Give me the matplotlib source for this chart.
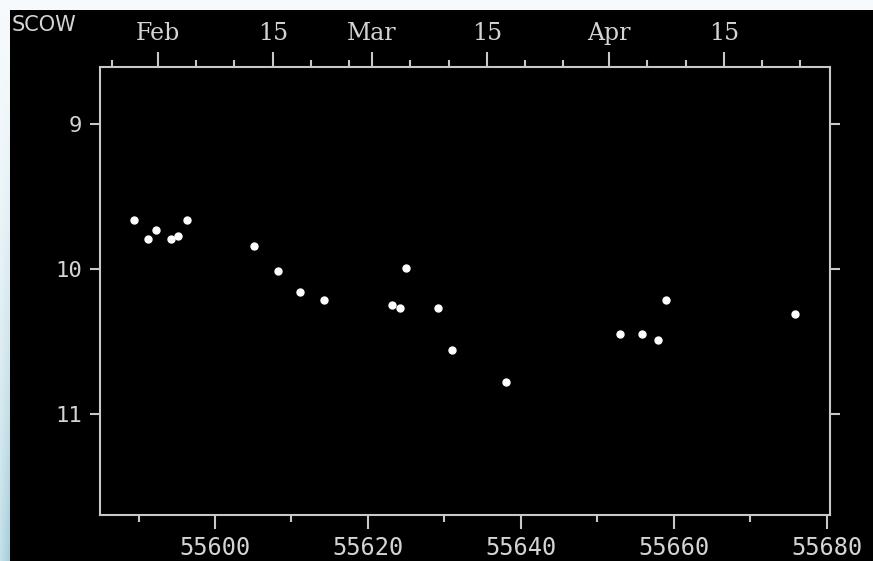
import numpy as np
from matplotlib import pyplot as plt
from matplotlib.colors import LinearSegmentedColormap

# 观测数据 (MJD, 星等)
mjd = [55589.4, 55591.3, 55592.3, 55594.3, 55595.2, 55596.3, 55605.1, 55608.3,
       55611.1, 55614.3, 55623.2, 55624.2, 55625.0, 55629.2, 55631.0, 55638.1,
       55653.0, 55655.9, 55658.0, 55659.0, 55675.8]
mag = [9.66, 9.79, 9.73, 9.79, 9.77, 9.66, 9.84, 10.01,
       10.16, 10.21, 10.25, 10.27, 9.99, 10.27, 10.56, 10.78,
       10.45, 10.45, 10.49, 10.21, 10.31]

# 上方日期刻度 (每月1, 6, 11, 16, 21, 26日的MJD)
top_major = [55593, 55608, 55621, 55636, 55652, 55667]
top_labels = ['Feb', '15', 'Mar', '15', 'Apr', '15']
top_minor = [55587, 55598, 55603, 55613, 55618, 55626, 55631, 55641, 55646,
             55657, 55662, 55672, 55677]
bottom_major = [55600, 55620, 55640, 55660, 55680]
bottom_minor = [55590, 55610, 55630, 55650, 55670]
y_ticks = [9, 10, 11]

fg = '#c8c8c8'
txt = '#d4d4d4'

fig = plt.figure(figsize=(8.73, 5.61), dpi=100, facecolor='#f6fafc')

# 黑色背景 (放在最底层的axes)
bg = fig.add_axes([10 / 873, 0, 1 - 10 / 873, 1 - 10 / 561], zorder=-5)
bg.set_facecolor('black')
bg.set_xticks([])
bg.set_yticks([])
for s in bg.spines.values():
    s.set_visible(False)

# 左边浅蓝色渐变条
strip = fig.add_axes([0, 0, 10 / 873, 1], zorder=-5)
gy = np.linspace(0, 1, 100)[:, None]
gx = np.linspace(0, 1, 10)[None, :]
grad = gy ** 1.5 * (0.6 + 0.4 * gx)
strip.imshow(grad, aspect='auto', cmap=LinearSegmentedColormap.from_list('b', ['#f6fafc', '#a4cedb']),
             origin='upper', extent=[0, 1, 0, 1])
strip.axis('off')

ax = fig.add_axes([100 / 873, 1 - 515 / 561, 730 / 873, 448 / 561])
ax.set_facecolor('black')
ax.plot(mjd, mag, 'o', color='white', ms=5, mec='white')

ax.set_xlim(55584.96, 55680.44)
ax.set_ylim(11.695, 8.605)

for s in ax.spines.values():
    s.set_color(fg)
    s.set_linewidth(1.5)

ax.set_xticks(bottom_major)
ax.set_xticks(bottom_minor, minor=True)
ax.set_xticklabels([str(v) for v in bottom_major], family='DejaVu Sans Mono', fontsize=17, color=txt)
ax.tick_params(axis='x', which='major', direction='out', length=10, width=1.5, color=fg, pad=5)
ax.tick_params(axis='x', which='minor', direction='out', length=5, width=1.5, color=fg)

ax.set_yticks(y_ticks)
ax.set_yticklabels([str(v) for v in y_ticks], family='DejaVu Sans Mono', fontsize=16, color=txt)
ax.tick_params(axis='y', which='major', direction='out', length=7, width=1.5, color=fg, pad=6,
               right=True)

# 上方日期轴
top = ax.twiny()
top.set_xlim(ax.get_xlim())
top.set_xticks([v - 0.45 for v in top_major])
top.set_xticks([v - 0.45 for v in top_minor], minor=True)
top.set_xticklabels(top_labels, family='DejaVu Serif', fontsize=17, color=txt)
top.tick_params(axis='x', which='major', direction='out', length=11, width=1.5, color=fg, pad=5)
top.tick_params(axis='x', which='minor', direction='out', length=5, width=1.5, color=fg)
for s in top.spines.values():
    s.set_visible(False)

fig.text(12 / 873, 1 - 15 / 561, 'SCOW', ha='left', va='top', fontsize=15, color=txt)

plt.savefig('out.png', dpi=100, facecolor=fig.get_facecolor())
